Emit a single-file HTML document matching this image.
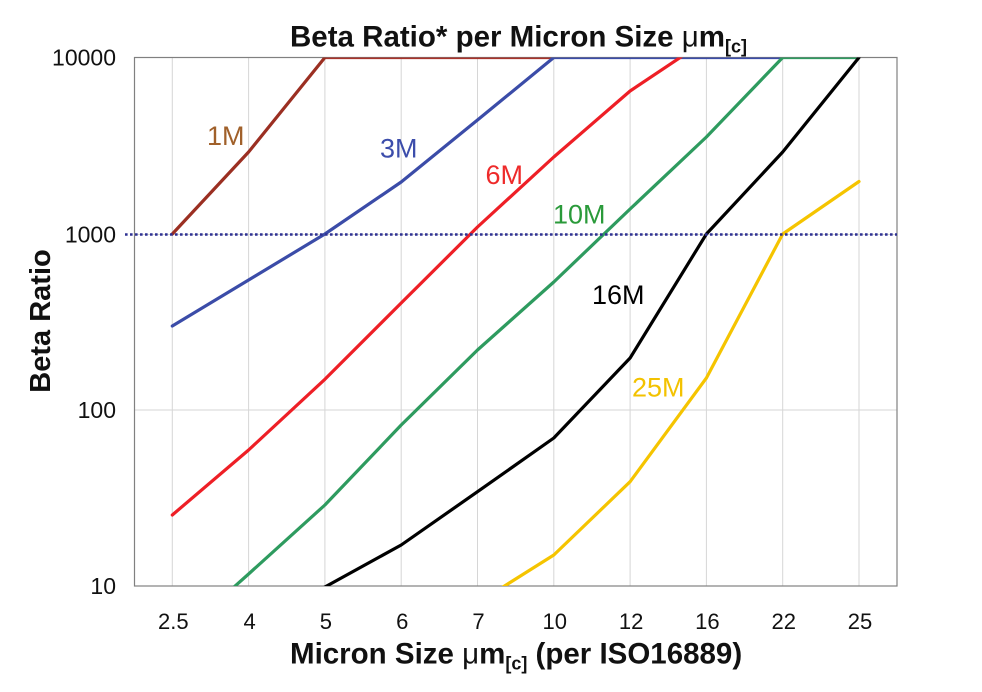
<!DOCTYPE html>
<html>
<head>
<meta charset="utf-8">
<style>
  html, body { margin: 0; padding: 0; background: #ffffff; }
  svg { display: block; }
  text { font-family: "Liberation Sans", Arial, sans-serif; }
</style>
</head>
<body>
<svg width="982" height="692" viewBox="0 0 982 692" xmlns="http://www.w3.org/2000/svg">
  <defs>
    <clipPath id="plot">
      <rect x="134.5" y="57.5" width="762.5" height="528.5"/>
    </clipPath>
  </defs>
  <rect x="0" y="0" width="982" height="692" fill="#ffffff"/>

  <!-- vertical gridlines -->
  <g stroke="#d6d6d6" stroke-width="1">
    <line x1="172.3" y1="57.5" x2="172.3" y2="586"/>
    <line x1="248.6" y1="57.5" x2="248.6" y2="586"/>
    <line x1="324.9" y1="57.5" x2="324.9" y2="586"/>
    <line x1="401.2" y1="57.5" x2="401.2" y2="586"/>
    <line x1="477.5" y1="57.5" x2="477.5" y2="586"/>
    <line x1="553.8" y1="57.5" x2="553.8" y2="586"/>
    <line x1="630.1" y1="57.5" x2="630.1" y2="586"/>
    <line x1="706.4" y1="57.5" x2="706.4" y2="586"/>
    <line x1="782.7" y1="57.5" x2="782.7" y2="586"/>
    <line x1="859.0" y1="57.5" x2="859.0" y2="586"/>
    <!-- horizontal gridlines -->
    <line x1="134.5" y1="410" x2="897" y2="410"/>
    <line x1="134.5" y1="234.5" x2="897" y2="234.5"/>
  </g>

  <!-- plot border -->
  <rect x="134.5" y="57.5" width="762.5" height="528.5" fill="none" stroke="#808080" stroke-width="1.2"/>

  <!-- series -->
  <g clip-path="url(#plot)" fill="none" stroke-width="3.2" stroke-linejoin="round" stroke-linecap="round">
    <!-- top segments -->
    <line x1="324.9" y1="57.5" x2="553.8" y2="57.5" stroke="#a8322a" stroke-linecap="butt"/>
    <line x1="553.8" y1="57.5" x2="782.7" y2="57.5" stroke="#3b4ca8" stroke-linecap="butt"/>
    <line x1="782.7" y1="57.5" x2="859.0" y2="57.5" stroke="#2e9b5f" stroke-linecap="butt"/>

    <!-- 1M -->
    <polyline stroke="#9b2f22" points="172.3,234 248.6,152 324.9,57.5"/>
    <!-- 3M -->
    <polyline stroke="#3b4ca8" points="172.3,326 248.6,280 324.9,234 401.2,182 477.5,120 553.8,57.5"/>
    <!-- 6M -->
    <polyline stroke="#ee1f26" points="172.3,515 248.6,450 324.9,379.3 401.2,303 477.5,227 553.8,157 630.1,91 706.4,40"/>
    <!-- 10M -->
    <polyline stroke="#2e9b5f" points="172.3,642 248.6,574 324.9,505 401.2,425 477.5,350 553.8,282 630.1,209 706.4,137 782.7,57.5"/>
    <!-- 16M -->
    <polyline stroke="#000000" points="248.6,630 324.9,587 401.2,545 477.5,491.7 553.8,438 630.1,358 706.4,234 782.7,152 859.0,57.5"/>
    <!-- 25M -->
    <polyline stroke="#f5c400" points="477.5,603 553.8,555 630.1,481.7 706.4,378 782.7,234 859.0,181.5"/>
  </g>

  <!-- dotted 1000 line -->
  <line x1="125" y1="234.5" x2="897" y2="234.5" stroke="#2e3192" stroke-width="2.6" stroke-dasharray="2.6 2.4"/>

  <!-- y tick labels -->
  <g font-size="23" fill="#111" text-anchor="end">
    <text x="116" y="65.5">10000</text>
    <text x="116" y="242.5">1000</text>
    <text x="116" y="418">100</text>
    <text x="116" y="594">10</text>
  </g>

  <!-- x tick labels -->
  <g font-size="22" fill="#111" text-anchor="middle">
    <text x="173.3" y="628.8">2.5</text>
    <text x="249.6" y="628.8">4</text>
    <text x="325.9" y="628.8">5</text>
    <text x="402.2" y="628.8">6</text>
    <text x="478.5" y="628.8">7</text>
    <text x="554.8" y="628.8">10</text>
    <text x="631.1" y="628.8">12</text>
    <text x="707.4" y="628.8">16</text>
    <text x="783.7" y="628.8">22</text>
    <text x="860.0" y="628.8">25</text>
  </g>

  <!-- series labels -->
  <g font-size="27">
    <text x="207" y="145" fill="#a0602a">1M</text>
    <text x="380" y="157.3" fill="#3c4dab">3M</text>
    <text x="485.5" y="184" fill="#ee2a2a">6M</text>
    <text x="553" y="223.3" fill="#2a9a3a">10M</text>
    <text x="592" y="304" fill="#000000">16M</text>
    <text x="632" y="396.7" fill="#f3c200">25M</text>
  </g>

  <!-- title -->
  <text x="290" y="46.7" font-size="29.5" font-weight="bold" fill="#111">Beta Ratio* per Micron Size <tspan font-weight="normal">μ</tspan>m<tspan font-size="18" dy="6">[c]</tspan></text>

  <!-- x axis title -->
  <text x="290" y="663.3" font-size="29.5" font-weight="bold" fill="#111">Micron Size <tspan font-weight="normal">μ</tspan>m<tspan font-size="18" dy="6">[c]</tspan><tspan dy="-6"> (per ISO16889)</tspan></text>

  <!-- y axis title -->
  <text transform="translate(50,321) rotate(-90)" text-anchor="middle" font-size="29" font-weight="bold" fill="#111">Beta Ratio</text>
</svg>
</body>
</html>
